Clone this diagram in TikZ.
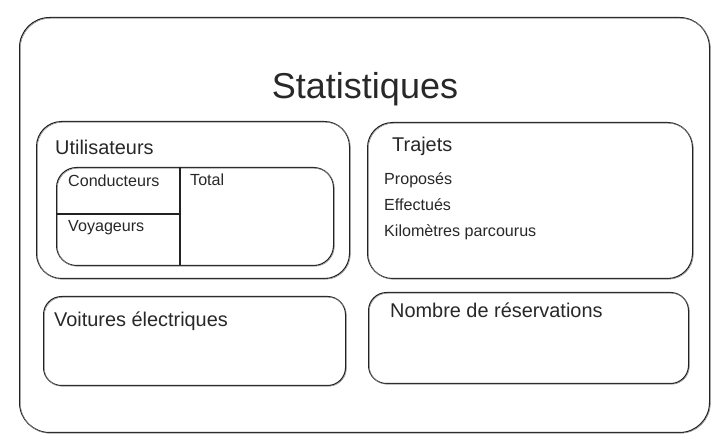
\documentclass[tikz,border=0pt]{standalone}
\usepackage{fontspec}
\setmainfont{Liberation Sans}
\definecolor{ink}{HTML}{222222}
\definecolor{txt}{HTML}{282828}
\begin{document}
\begin{tikzpicture}[x=1pt,y=-1pt,
  box/.style={draw=ink, line width=1.1pt, rounded corners=#1, inner sep=0pt, anchor=north west,
    postaction={draw=ink!55, line width=0.5pt, transform canvas={xshift=0.8pt,yshift=-0.7pt}}},
  divider/.style={draw=ink, line width=1.1pt},
  title/.style={font=\fontsize{36}{43}\selectfont, text=txt, inner sep=0pt},
  head/.style={font=\fontsize{19.9}{24}\selectfont, text=txt, inner sep=0pt, anchor=base west},
  item/.style={font=\fontsize{16.1}{19}\selectfont, text=txt, inner sep=0pt, anchor=base west}]
\useasboundingbox (0,0) rectangle (721,446);
\fill[white] (0,0) rectangle (721,446);
% boxes
\node[box=30, minimum width=690pt, minimum height=415pt] (outer) at (19,17) {};
\node[box=25, minimum width=313pt, minimum height=157pt] (users) at (36,121) {};
\node[box=20, minimum width=277pt, minimum height=98pt] (tbl) at (56,167) {};
\node[box=25, minimum width=325pt, minimum height=156pt] (trips) at (367,122) {};
\node[box=18, minimum width=302pt, minimum height=89pt] (cars) at (43,296) {};
\node[box=18, minimum width=320pt, minimum height=91pt] (resa) at (368,292) {};
% table dividers
\coordinate (vT) at (180,167);
\coordinate (vB) at (180,265);
\coordinate (hL) at (56,214);
\coordinate (hR) at (180,214);
\draw[divider] (vT) -- (vB);
\draw[divider] (hL) -- (hR);
% texts
\node[title, anchor=base] (ttl) at (365,99) {Statistiques};
\node[head] (tUsers) at (55,155) {Utilisateurs};
\node[item] (tCond) at (68,187) {Conducteurs};
\node[item] (tTotal) at (190,186) {Total};
\node[item] (tVoy) at (68,232) {Voyageurs};
\node[head] (tTrips) at (392,152) {Trajets};
\node[item] (tProp) at (384,185) {Proposés};
\node[item] (tEff) at (384,211) {Effectués};
\node[item] (tKm) at (384,237) {Kilomètres parcourus};
\node[head] (tCars) at (54,327) {Voitures électriques};
\node[head] (tResa) at (390,318) {Nombre de réservations};
\end{tikzpicture}
\end{document}
